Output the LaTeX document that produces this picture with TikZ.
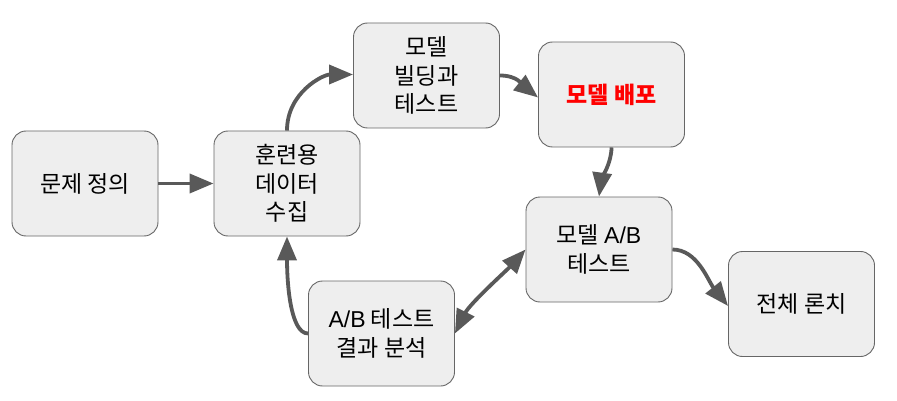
\documentclass[tikz,border=0pt]{standalone}
\usepackage{fontspec}
\setmainfont{Noto Sans CJK KR}
\newfontfamily\latn{Liberation Sans}
\usetikzlibrary{arrows.meta}
\definecolor{boxfill}{HTML}{EEEEEE}
\definecolor{boxline}{HTML}{666666}
\definecolor{arrowc}{HTML}{595959}
\definecolor{redtxt}{HTML}{FF0000}
\begin{document}
\begin{tikzpicture}[x=1pt,y=-1pt,
  box/.style={draw=boxline, fill=boxfill, rounded corners=14pt, minimum width=146pt, minimum height=105pt, line width=0.9pt, align=center, font=\fontsize{23}{28.5}\selectfont, inner sep=0pt},
  conn/.style={draw=arrowc, line width=3.8pt, -{Triangle[length=24pt,width=19pt]}},
  bconn/.style={draw=arrowc, line width=3.8pt, {Triangle[length=24pt,width=19pt]}-{Triangle[length=24pt,width=19pt]}}]
\useasboundingbox (0,0) rectangle (897,401);
\node[box] (a) at (85,183.5) {문제 정의};
\node[box] (b) at (287,183.5) {훈련용\\데이터\\수집};
\node[box] (c) at (426.5,75.5) {모델\\빌딩과\\테스트};
\node[box] (d) at (611.5,94.5) {\textcolor{redtxt}{\bfseries 모델 배포}};
\node[box] (e) at (599,249.5) {모델 {\latn A/B}\\테스트};
\node[box] (f) at (801.5,304) {전체 론치};
\node[box] (g) at (381.5,333.5) {{\latn A/B} 테스트\\결과 분석};
\draw[conn] (a.east) -- (b.west);
\draw[conn] (b.north) .. controls +(0,-38) and +(-30,0) .. ([yshift=1pt]c.west);
\draw[conn] (c.east) .. controls +(18,0) and +(-15,-12) .. ([yshift=-3pt]d.west);
\draw[conn] (d.south) .. controls +(0,15) and +(2,-15) .. (e.north);
\draw[conn] (e.east) .. controls +(25,0) and +(-20,-25) .. ([yshift=-2pt]f.west);
\draw[conn] (g.west) .. controls +(-18,0) and +(0,45) .. (b.south);
\draw[bconn] (g.east) .. controls +(15,-30) and +(-18,20) .. (e.west);
\end{tikzpicture}
\end{document}
